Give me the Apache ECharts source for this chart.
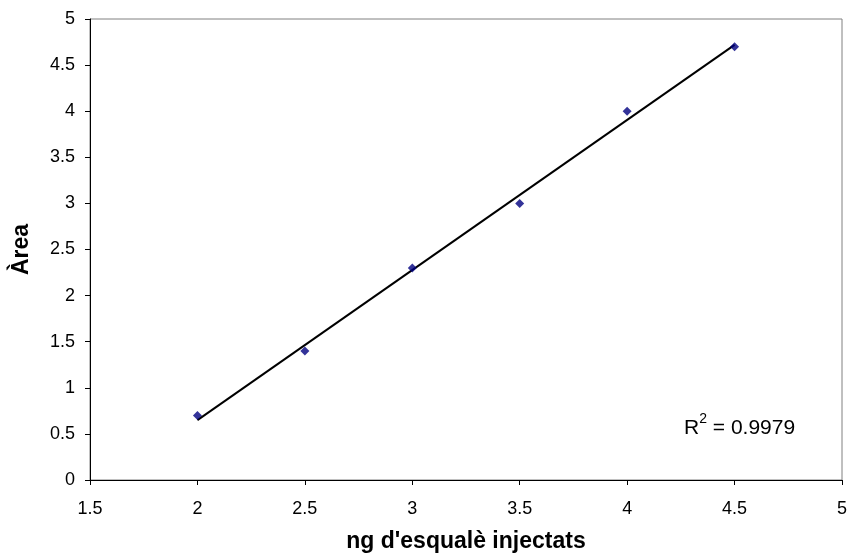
<!DOCTYPE html>
<html>
<head>
<meta charset="utf-8">
<script src="https://cdn.jsdelivr.net/npm/echarts@6/dist/echarts.min.js"></script>
<style>html,body{margin:0;padding:0;background:#fff}#c{width:851px;height:558px}</style>
</head>
<body>
<div id="c"></div>
<script>
const xValues = [2, 2.5, 3, 3.5, 4, 4.5];
const yValues = [0.7, 1.4, 2.3, 3.0, 4.0, 4.7];
const trendX = [2, 4.5];
const trendY = [0.65, 4.72];
const xTitle = "ng d'esqualè injectats";
const yTitle = "Àrea";
const r2Text = "0.9979";

const font = 'Liberation Sans, Arial, sans-serif';
const chart = echarts.init(document.getElementById('c'));
chart.setOption({
  animation: false,
  backgroundColor: '#fff',
  grid: { left: 90, top: 19, right: 9, bottom: 75, show: true, borderColor: '#808080', borderWidth: 1 },
  xAxis: {
    type: 'value', min: 1.5, max: 5, interval: 0.5,
    name: xTitle, nameLocation: 'middle', nameGap: 50,
    nameTextStyle: { fontFamily: font, fontWeight: 'bold', fontSize: 23, color: '#000' },
    axisLine: { lineStyle: { color: '#000', width: 1 } },
    axisTick: { show: true, length: 5, lineStyle: { color: '#000' } },
    axisLabel: { fontFamily: font, fontSize: 18, color: '#000', margin: 20 },
    splitLine: { show: false }
  },
  yAxis: {
    type: 'value', min: 0, max: 5, interval: 0.5,
    name: yTitle, nameLocation: 'middle', nameGap: 57,
    nameTextStyle: { fontFamily: font, fontWeight: 'bold', fontSize: 23, color: '#000' },
    axisLine: { show: true, lineStyle: { color: '#000', width: 1 } },
    axisTick: { show: true, length: 5, lineStyle: { color: '#000' } },
    axisLabel: { fontFamily: font, fontSize: 18, color: '#000', margin: 15 },
    splitLine: { show: false }
  },
  series: [
    {
      type: 'line', data: trendX.map((x, i) => [x, trendY[i]]),
      showSymbol: false, symbol: 'none',
      lineStyle: { color: '#000', width: 2 }, z: 2
    },
    {
      type: 'scatter', data: xValues.map((x, i) => [x, yValues[i]]),
      symbol: 'diamond', symbolSize: 9,
      itemStyle: { color: '#000080' }, z: 3
    }
  ],
  graphic: [{
    type: 'text', left: 684, top: 412,
    style: {
      text: '{t|R}{s|2}{t| = ' + r2Text + '}',
      rich: {
        t: { fontFamily: font, fontSize: 21, fill: '#000', verticalAlign: 'bottom', lineHeight: 27 },
        s: { fontFamily: font, fontSize: 14, fill: '#000', verticalAlign: 'top', padding: [0, 0, 10, 0], lineHeight: 27 }
      }
    }
  }]
});
</script>
</body>
</html>
